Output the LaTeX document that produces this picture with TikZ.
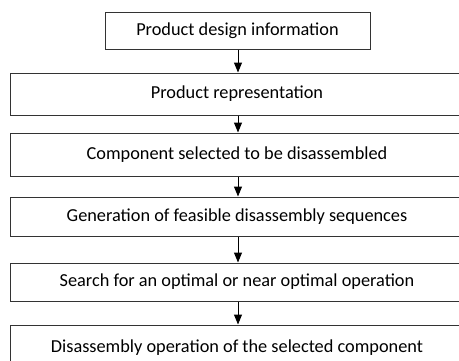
\documentclass[tikz,border=0pt]{standalone}
\usepackage{fontspec}
\setmainfont{Carlito}
\usetikzlibrary{arrows.meta}
\begin{document}
\begin{tikzpicture}[x=1pt,y=1pt,
  box/.style={draw=black!80, line width=1pt, inner sep=0pt, font=\fontsize{18.3}{21}\selectfont, text=black},
  wide/.style={box, minimum width=475pt},
  flow/.style={draw=black, line width=1pt, -{Triangle[length=10pt,width=8pt]}}]
\useasboundingbox (0,0) rectangle (459,-360);
\node[box, minimum width=265pt, minimum height=37pt] (n1) at (237.5,-30.5) {Product design information};
\node[wide, minimum height=42pt] (n2) at (248,-94) {\hspace*{-22pt}Product representation};
\node[wide, minimum height=43pt] (n3) at (248,-154.5) {\hspace*{-22pt}Component selected to be disassembled};
\node[wide, minimum height=39pt] (n4) at (248,-216.5) {\hspace*{-22pt}Generation of feasible disassembly sequences};
\node[wide, minimum height=38pt] (n5) at (248,-282) {\hspace*{-22pt}Search for an optimal or near optimal operation};
\node[wide, minimum height=46pt] (n6) at (248,-348) {\hspace*{-22pt}Disassembly operation of the selected component};
\draw[flow] (n1.south -| 238,0) -- (n2.north -| 238,0);
\draw[flow] (n2.south -| 238,0) -- (n3.north -| 238,0);
\draw[flow] (n3.south -| 238,0) -- (n4.north -| 238,0);
\draw[flow] (n4.south -| 238,0) -- (n5.north -| 238,0);
\draw[flow] (n5.south -| 238,0) -- (n6.north -| 238,0);
\end{tikzpicture}
\end{document}
